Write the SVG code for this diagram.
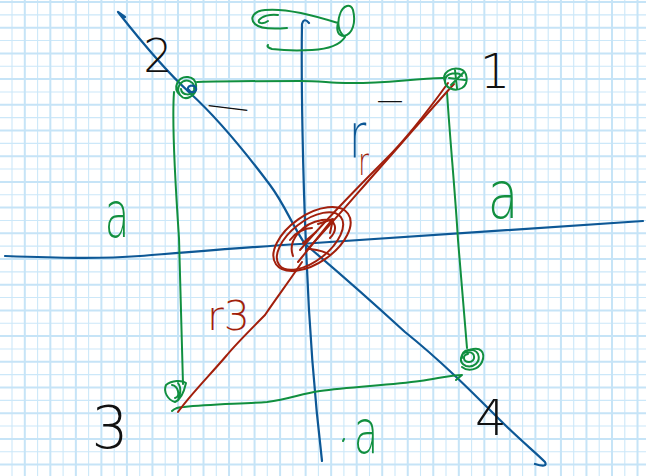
<svg xmlns="http://www.w3.org/2000/svg" width="646" height="476" viewBox="0 0 646 476">
<style>
.gthick{stroke:#c6e4f7;stroke-width:2;fill:none}
.gthin{stroke:#cce8f9;stroke-width:1.1;fill:none}
.ink{fill:none;stroke-linecap:round;stroke-linejoin:round}
.blue{stroke:#0d5896;stroke-width:2.2}
.green{stroke:#118f3f;stroke-width:2}
.red{stroke:#a21f0c;stroke-width:2}
.lbl{font-family:'DejaVu Sans','Liberation Sans',sans-serif;font-weight:200}
.tb{fill:#111}.tg{fill:#118f3f}.tr{fill:#a21f0c}.tu{fill:#0d5896}
</style>
<rect width="646" height="476" fill="#ffffff"/>
<g id="grid">
<path class="gthin" d="M12.0,0V476M37.6,0V476M63.1,0V476M88.6,0V476M114.2,0V476M139.7,0V476M165.2,0V476M190.7,0V476M216.3,0V476M241.8,0V476M267.3,0V476M292.9,0V476M318.4,0V476M343.9,0V476M369.5,0V476M395.0,0V476M420.5,0V476M446.0,0V476M471.6,0V476M497.1,0V476M522.6,0V476M548.2,0V476M573.7,0V476M599.2,0V476M624.8,0V476
M0,14.85H646M0,40.55H646M0,66.25H646M0,91.95H646M0,117.65H646M0,143.35H646M0,169.05H646M0,194.75H646M0,220.45H646M0,246.15H646M0,271.85H646M0,297.55H646M0,323.25H646M0,348.95H646M0,374.65H646M0,400.35H646M0,426.05H646M0,451.75H646"/>
<path class="gthick" d="M24.8,0V476M50.33,0V476M75.86,0V476M101.39,0V476M126.92,0V476M152.45,0V476M177.98,0V476M203.51,0V476M229.04,0V476M254.57,0V476M280.1,0V476M305.63,0V476M331.16,0V476M356.69,0V476M382.22,0V476M407.75,0V476M433.28,0V476M458.81,0V476M484.34,0V476M509.87,0V476M535.4,0V476M560.93,0V476M586.46,0V476M611.99,0V476M637.52,0V476
M0,2H646M0,27.7H646M0,53.4H646M0,79.1H646M0,104.8H646M0,130.5H646M0,156.2H646M0,181.9H646M0,207.6H646M0,233.3H646M0,259H646M0,284.7H646M0,310.4H646M0,336.1H646M0,361.8H646M0,387.5H646M0,413.2H646M0,438.9H646M0,464.6H646"/>
</g>
<g id="axes">
<path class="ink blue" d="M5,256 C60,258 100,259 140,256 C190,252 250,247 300,244 C400,238 520,229 643,221"/>
<path class="ink blue" d="M309,23 Q304,17 302,24 C301,80 303,180 306,245 C309,330 316,410 322,461"/>
<path class="ink blue" d="M125,17 L118,12 C140,40 170,75 190,93 C225,125 255,165 270,185 C285,205 292,225 305,244 C330,265 370,300 405,332 C440,360 470,390 500,420 C520,440 535,452 545,462 Q548,468 535,464"/>
</g>
<g id="rotation">
<path class="ink green" d="M287,28 C275,29 260,29 255,24 C249,18 254,11 265,10 C285,8 310,14 338,23 C336,30 338,36 344,36 C353,34 356,22 353,10 C351,3 343,5 340,14 C337,22 338,32 345,37 C340,45 330,49 312,50 C295,51 280,50 272,49 Q266,47 268,45"/>
<path class="ink green" d="M278,15 C270,14 262,16 259,20 C257,24 264,24 268,21"/>
</g>
<g id="connectors">
<path class="ink green" d="M197,82 C230,81 270,81 300,81 C320,81 330,83 345,83 C380,84 410,79 443,78"/>
<path class="ink green" d="M447,92 C450,140 455,190 458,240 C462,290 465,320 467,348"/>
<path class="ink green" d="M174,92 C172,120 175,180 179,238 C181,300 182,350 183,384"/>
<path class="ink green" d="M172,411 Q176,407 184,407 C210,404 240,404 267,402 C290,399 300,394 320,391 C350,387 390,385 420,381 C440,378 452,375 462,375 L456,380"/>
<path class="ink red" d="M300,250 C330,215 365,180 385,160 C410,135 430,108 448,83"/>
<path class="ink red" d="M306,251 C335,220 360,190 378,170 C405,140 430,110 454,84"/>
<path class="ink red" d="M302,262 C290,280 275,300 265,315 C250,330 235,345 227,355 C210,375 190,395 178,412"/>
</g>
<g id="center-charge">
<ellipse class="ink red" cx="312" cy="239" rx="44" ry="24" transform="rotate(-35 312 239)"/>
<ellipse class="ink red" cx="310" cy="241" rx="39" ry="20" transform="rotate(-38 310 241)"/>
<path class="ink red" d="M293,256 C287,240 303,223 322,220 C337,218 338,230 330,238"/>
<path class="ink red" d="M298,262 L332,220 M318,224 L333,219 L330,233 M303,243 L316,232 M310,249 C318,250 326,252 330,255 M290,240 C296,232 305,228 312,228"/>
</g>
<g id="charge-1">
<path class="ink green" d="M445,82 C441,72 452,67 460,69 C468,71 469,84 462,88 C455,92 444,88 445,80 C446,73 458,71 462,76 M449,78 L465,80 M455,70 L457,88 M451,85 L463,73"/>
<text class="lbl tb" x="495" y="88" font-size="48" text-anchor="middle">1</text>
<text class="lbl tb" x="374" y="110.5" font-size="30" textLength="32" lengthAdjust="spacingAndGlyphs">−</text>
</g>
<g id="charge-2">
<path class="ink green" d="M180,95 C172,88 178,76 188,77 C198,78 199,92 190,97 C182,101 175,92 180,84 C186,77 196,82 194,90 C192,96 182,96 181,89"/>
<path class="ink blue" d="M188,91 C186,85 194,84 196,88 C197,92 191,94 189,90"/>
<text class="lbl tb" x="158" y="72" font-size="46" text-anchor="middle">2</text>
<text class="lbl tb" x="202" y="117.5" font-size="30" textLength="52" lengthAdjust="spacingAndGlyphs" transform="rotate(7 228 107)">−</text>
</g>
<g id="charge-3">
<path class="ink green" d="M166,385 C172,380 182,380 186,383 C184,392 180,400 175,402 C168,400 163,392 166,385 Z M172,385 C178,386 181,396 175,398 M178,383 C182,388 180,396 178,400"/>
<text class="lbl tb" x="110" y="448" font-size="58" text-anchor="middle">3</text>
</g>
<g id="charge-4">
<path class="ink green" d="M462,358 C460,349 475,347 478,354 C481,362 474,368 466,366 C458,363 460,352 468,352 C476,352 476,362 469,362 C463,362 462,355 468,354 M470,350 C480,346 486,352 482,362 C478,370 468,372 462,367"/>
<text class="lbl tb" x="491" y="435" font-size="50" text-anchor="middle">4</text>
</g>
<g id="labels">
<text class="lbl tg" font-size="40" text-anchor="middle" transform="translate(117,237) scale(1,1.6)">a</text>
<text class="lbl tg" font-size="50" text-anchor="middle" transform="translate(503,218) scale(1,1.3)">a</text>
<text class="lbl tg" font-size="40" text-anchor="middle" transform="translate(366,453) scale(1,1.5)">a</text>
<path class="ink green" d="M343,441 L344,439"/>
<text class="lbl" font-size="42" transform="translate(357,158) scale(1,1.5)" x="-8" y="0"><tspan class="tu">r</tspan><tspan class="tr" font-size="26" dx="-8" dy="11">r</tspan></text>
<text class="lbl tr" x="207" y="330" font-size="41">r3</text>
</g>
</svg>
